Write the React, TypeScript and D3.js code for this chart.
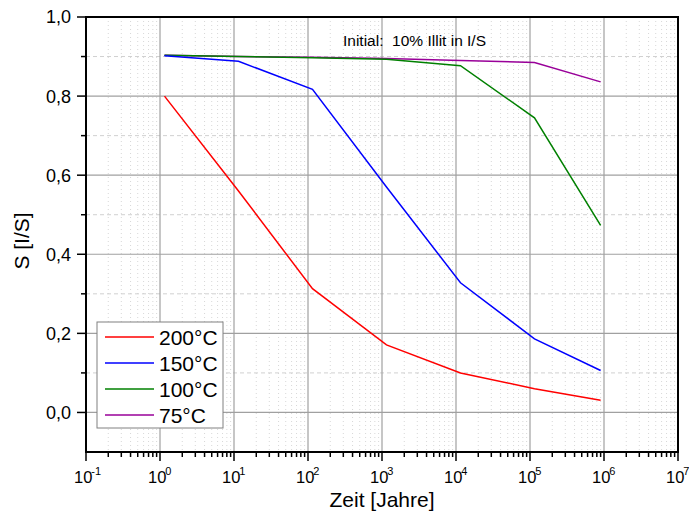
import React, { useEffect, useRef } from "react";
import * as d3 from "d3";

// time in years (x) for each model step
const years = [1.15, 11.5, 115, 1150, 11500, 115000, 900000];

const series = ["200°C", "150°C", "100°C", "75°C"];
const colors = ["#ff0000", "#0000ff", "#008000", "#990099"];

const s200 = [0.8, 0.56, 0.313, 0.171, 0.1, 0.06, 0.031];
const s150 = [0.902, 0.888, 0.817, 0.57, 0.328, 0.186, 0.106];
const s100 = [0.903, 0.9, 0.897, 0.893, 0.877, 0.745, 0.473];
const s75 = [0.903, 0.9, 0.898, 0.895, 0.89, 0.885, 0.836];

const yTicks = [0, 0.2, 0.4, 0.6, 0.8, 1.0];
const yMinor = [-0.1, 0.1, 0.3, 0.5, 0.7, 0.9];
const xDecades = [-1, 0, 1, 2, 3, 4, 5, 6, 7];

const App = () => {
  const ref = useRef<SVGSVGElement>(null);

  useEffect(() => {
    const svg = d3.select(ref.current);
    svg.selectAll("*").remove();

    const left = 86, right = 678, top = 17, bottom = 452;
    const x = d3.scaleLog().domain([0.1, 1e7]).range([left, right]);
    const y = d3.scaleLinear().domain([-0.1, 1.0]).range([bottom, top]);

    const font = "Arial, 'Liberation Sans', sans-serif";

    // minor x grid (dotted, very light)
    const minorX: number[] = [];
    for (let e = -1; e < 7; e++) for (let k = 2; k <= 9; k++) minorX.push(k * Math.pow(10, e));
    svg.append("g")
      .selectAll("line")
      .data(minorX)
      .join("line")
      .attr("x1", (d) => x(d)).attr("x2", (d) => x(d))
      .attr("y1", top).attr("y2", bottom)
      .attr("stroke", "#d8d8d8")
      .attr("stroke-width", 1)
      .attr("stroke-dasharray", "1,3");

    // minor y grid (dashed)
    svg.append("g")
      .selectAll("line")
      .data(yMinor)
      .join("line")
      .attr("x1", left).attr("x2", right)
      .attr("y1", (d) => y(d)).attr("y2", (d) => y(d))
      .attr("stroke", "#d0d0d0")
      .attr("stroke-dasharray", "4,3");

    // major grid
    svg.append("g")
      .selectAll("line")
      .data(xDecades.slice(1, -1))
      .join("line")
      .attr("x1", (d) => x(Math.pow(10, d))).attr("x2", (d) => x(Math.pow(10, d)))
      .attr("y1", top).attr("y2", bottom)
      .attr("stroke", "#a0a0a0")
      .attr("stroke-width", 1.2);
    svg.append("g")
      .selectAll("line")
      .data(yTicks.slice(0, -1))
      .join("line")
      .attr("x1", left).attr("x2", right)
      .attr("y1", (d) => y(d)).attr("y2", (d) => y(d))
      .attr("stroke", "#a0a0a0")
      .attr("stroke-width", 1.2);

    // annotation
    svg.append("text")
      .attr("x", 343)
      .attr("y", 46)
      .attr("font-family", font)
      .attr("font-size", 15.5)
      .style("white-space", "pre")
      .text("Initial:  10% Illit in I/S");

    // lines
    const all = [s200, s150, s100, s75];
    const line = d3.line<number>()
      .x((_, i) => x(years[i]))
      .y((d) => y(d));
    // draw in reverse so red ends up on top
    for (let i = all.length - 1; i >= 0; i--) {
      svg.append("path")
        .attr("d", line(all[i]))
        .attr("fill", "none")
        .attr("stroke", colors[i])
        .attr("stroke-width", 1.5);
    }

    // frame
    svg.append("rect")
      .attr("x", left).attr("y", top)
      .attr("width", right - left).attr("height", bottom - top)
      .attr("fill", "none").attr("stroke", "#000").attr("stroke-width", 2);

    // y axis ticks
    const yAxis = svg.append("g");
    yAxis.selectAll("line.maj")
      .data(yTicks)
      .join("line")
      .attr("x1", left - 9).attr("x2", left)
      .attr("y1", (d) => y(d)).attr("y2", (d) => y(d))
      .attr("stroke", "#000").attr("stroke-width", 1.5);
    yAxis.selectAll("line.min")
      .data(yMinor.slice(1))
      .join("line")
      .attr("x1", left - 5).attr("x2", left)
      .attr("y1", (d) => y(d)).attr("y2", (d) => y(d))
      .attr("stroke", "#000").attr("stroke-width", 1.5);
    yAxis.selectAll("text")
      .data(yTicks)
      .join("text")
      .attr("x", left - 15)
      .attr("y", (d) => y(d))
      .attr("dy", "0.36em")
      .attr("text-anchor", "end")
      .attr("font-family", font)
      .attr("font-size", 18)
      .text((d) => d3.format(".1f")(d).replace(".", ","));

    // x axis ticks
    const xAxis = svg.append("g");
    xAxis.selectAll("line.maj")
      .data(xDecades)
      .join("line")
      .attr("x1", (d) => x(Math.pow(10, d))).attr("x2", (d) => x(Math.pow(10, d)))
      .attr("y1", bottom).attr("y2", bottom + 9)
      .attr("stroke", "#000").attr("stroke-width", 1.5);
    xAxis.selectAll("line.min")
      .data(minorX)
      .join("line")
      .attr("x1", (d) => x(d)).attr("x2", (d) => x(d))
      .attr("y1", bottom).attr("y2", bottom + 5)
      .attr("stroke", "#000").attr("stroke-width", 1.5);
    const lbl = xAxis.selectAll("text")
      .data(xDecades)
      .join("text")
      .attr("x", (d) => x(Math.pow(10, d)) - 12)
      .attr("y", bottom + 31)
      .attr("text-anchor", "start")
      .attr("font-family", font)
      .attr("font-size", 16.5);
    lbl.append("tspan").text("10");
    lbl.append("tspan")
      .attr("dy", -8)
      .attr("dx", -1)
      .attr("font-size", 11)
      .text((d) => String(d));

    // axis titles
    svg.append("text")
      .attr("x", 382)
      .attr("y", 507)
      .attr("text-anchor", "middle")
      .attr("font-family", font)
      .attr("font-size", 21)
      .text("Zeit [Jahre]");
    svg.append("text")
      .attr("transform", "translate(29, 241) rotate(-90)")
      .attr("text-anchor", "middle")
      .attr("font-family", font)
      .attr("font-size", 21)
      .text("S [I/S]");

    // legend
    const lg = svg.append("g").attr("transform", "translate(97, 322)");
    lg.append("rect")
      .attr("width", 126).attr("height", 106)
      .attr("fill", "#fff").attr("stroke", "#808080").attr("stroke-width", 1);
    const items = lg.selectAll("g")
      .data(series)
      .join("g")
      .attr("transform", (_, i) => `translate(0, ${15 + i * 26})`);
    items.append("line")
      .attr("x1", 8).attr("x2", 57)
      .attr("stroke", (_, i) => colors[i])
      .attr("stroke-width", 1.5);
    items.append("text")
      .attr("x", 62)
      .attr("dy", "0.36em")
      .attr("font-family", font)
      .attr("font-size", 21)
      .text((d) => d);
  }, []);

  return (
    <svg
      ref={ref}
      width={689}
      height={517}
      style={{ position: "absolute", left: 0, top: 0, background: "#fff" }}
    />
  );
};

export default App;
